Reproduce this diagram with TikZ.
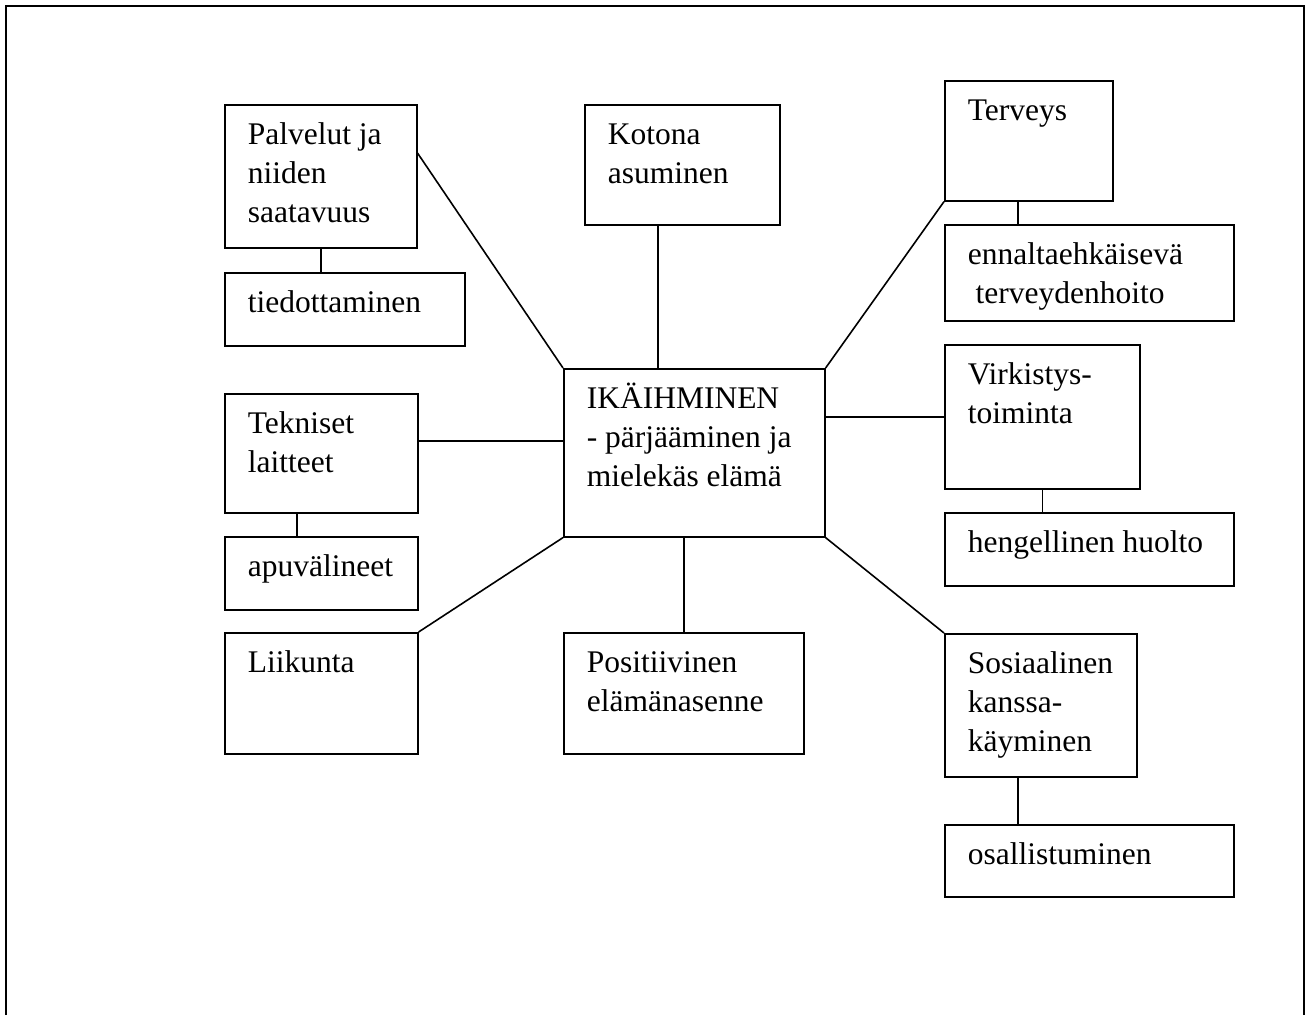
\documentclass[tikz,border=0pt]{standalone}
\usepackage{fontspec}
\setmainfont{Liberation Serif}
\usetikzlibrary{calc}

\begin{document}
\begin{tikzpicture}[
    x=1pt, y=-1pt,
    font=\fontsize{31.5}{38.8}\selectfont,
    frame/.style={line width=2.4pt},
    box/.style 2 args={draw, line width=1.6pt, anchor=north west, inner sep=0pt,
        minimum width=#1,
        /utils/exec={\pgfmathsetmacro\bxdepth{#2-40}},
        text height=40pt, text depth=\bxdepth pt,
        execute at begin node={\hspace*{23pt}\begin{minipage}[t]{\dimexpr#1pt-23pt\relax}},
        execute at end node={\end{minipage}}},
    link/.style={line width=1.6pt}
]
    \useasboundingbox (0,0) rectangle (1311,1015);

    % Page frame
    \draw[frame] (6,1015) -- (6,6) -- (1304,6) -- (1304,1015);

    % Centre
    \node[box={261}{168}] (ikai) at (563,368) {IK\"AIHMINEN\\- p\"arj\"a\"aminen ja\\mielek\"as el\"am\"a};

    % Left column
    \node[box={192}{143}] (palv) at (224,104) {Palvelut ja\\niiden\\saatavuus};
    \node[box={240}{73}]  (tied) at (224,272) {tiedottaminen};
    \node[box={193}{119}] (tek)  at (224,393) {Tekniset\\laitteet};
    \node[box={193}{73}]  (apu)  at (224,536) {apuv\"alineet};
    \node[box={193}{121}] (liik) at (224,632) {Liikunta};

    % Middle column
    \node[box={195}{120}] (kot) at (584,104) {Kotona\\asuminen};
    \node[box={240}{121}] (pos) at (563,632) {Positiivinen\\el\"am\"anasenne};

    % Right column
    \node[box={168}{120}] (terv) at (944,80)  {Terveys};
    \node[box={289}{96}]  (enn)  at (944,224) {ennaltaehk\"aisev\"a\\\hspace*{0.25em}terveydenhoito};
    \node[box={195}{144}] (virk) at (944,344) {Virkistys-\\toiminta};
    \node[box={289}{73}]  (heng) at (944,512) {hengellinen huolto};
    \node[box={192}{143}] (sos)  at (944,633) {Sosiaalinen\\kanssa-\\k\"ayminen};
    \node[box={289}{72}]  (osal) at (944,824) {osallistuminen};

    % Links to the centre
    \draw[link] ($(palv.north east)!0.34!(palv.south east)$) -- (ikai.north west);
    \draw[link] ([xshift=-24.5pt]kot.south) -- ([xshift=-24.5pt]kot.south |- ikai.north);
    \draw[link] (terv.south west) -- (ikai.north east);
    \draw[link] ([yshift=12.5pt]tek.east) -- ([yshift=12.5pt]tek.east -| ikai.west);
    \draw[link] (virk.west) -- (virk.west -| ikai.east);
    \draw[link] (liik.north east) -- (ikai.south west);
    \draw[link] (pos.north) -- (pos.north |- ikai.south);
    \draw[link] (sos.north west) -- (ikai.south east);

    % Sub boxes
    \draw[link] (palv.south) -- (palv.south |- tied.north);
    \draw[link] ([xshift=-24.5pt]tek.south) -- ([xshift=-24.5pt]tek.south |- apu.north);
    \draw[link] ([xshift=-11pt]terv.south) -- ([xshift=-11pt]terv.south |- enn.north);
    \draw[link] (virk.south) -- (virk.south |- heng.north);
    \draw[link] ([xshift=-23pt]sos.south) -- ([xshift=-23pt]sos.south |- osal.north);
\end{tikzpicture}
\end{document}
